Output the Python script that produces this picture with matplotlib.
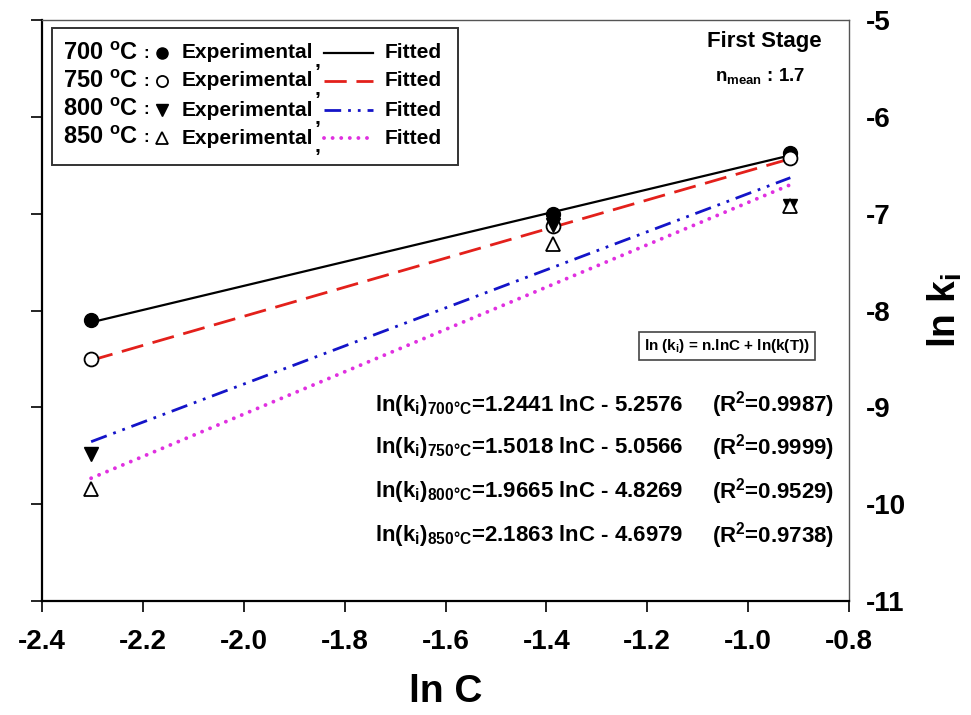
import numpy as np
import matplotlib
matplotlib.use("Agg")
import matplotlib.pyplot as plt
from matplotlib.lines import Line2D
from matplotlib.patches import Rectangle

plt.rcParams['font.family'] = ['Liberation Sans', 'DejaVu Sans']
plt.rcParams['font.weight'] = 'bold'
plt.rcParams['mathtext.default'] = 'regular'
plt.rcParams['axes.unicode_minus'] = False

# ln C values (C = 0.1, 0.25, 0.4)
ln_c = [-2.3026, -1.3863, -0.9163]
temps = ['700', '750', '800', '850']

# experimental ln k_i
lnk_700 = [-8.10, -7.00, -6.37]
lnk_750 = [-8.50, -7.13, -6.42]
lnk_800 = [-9.48, -7.12, -6.92]
lnk_850 = [-9.84, -7.31, -6.92]

# fitted slope / intercept / R^2
slopes = [1.2441, 1.5018, 1.9665, 2.1863]
intercepts = [-5.2576, -5.0566, -4.8269, -4.6979]
r2 = [0.9987, 0.9999, 0.9529, 0.9738]

exp_data = [lnk_700, lnk_750, lnk_800, lnk_850]
markers = [dict(marker='o', mfc='black', mec='black', ms=10),
           dict(marker='o', mfc='white', mec='black', ms=10, mew=1.3),
           dict(marker='v', mfc='black', mec='black', ms=10),
           dict(marker='^', mfc='white', mec='black', ms=10, mew=1.3)]
line_styles = [dict(color='black', ls='-', lw=1.6),
               dict(color='#e3201b', ls=(0, (8, 3.5)), lw=2.0),
               dict(color='#1414c8', ls=(0, (6, 2.5, 1, 2.5, 1, 2.5)), lw=2.0),
               dict(color='#e030e0', ls=(0, (0.01, 2.2)), lw=2.8, dash_capstyle='round')]

fig = plt.figure(figsize=(9.71, 7.15), dpi=100)
ax = fig.add_axes([42 / 971, 1 - 601 / 715, 807 / 971, 581 / 715])

x = np.array(ln_c)
for i in range(4):
    ax.plot(x, slopes[i] * x + intercepts[i], zorder=2, **line_styles[i])
for i in range(4):
    ax.plot(ln_c, exp_data[i], ls='none', zorder=3, **markers[i])

ax.set_xlim(-2.4, -0.8)
ax.set_ylim(-11, -5)
ax.set_xticks(np.arange(-2.4, -0.79, 0.2))
ax.set_xticklabels(['%.1f' % v for v in np.arange(-2.4, -0.79, 0.2)])
ax.set_yticks(range(-11, -4))

ax.tick_params(axis='x', direction='out', length=8, width=1.2, pad=12, labelsize=20)
ax.tick_params(axis='y', direction='out', length=8, width=1.2, left=True, right=False,
               labelleft=False, labelright=True, pad=4, labelsize=20)
for lab in ax.get_xticklabels() + ax.get_yticklabels():
    lab.set_fontweight('bold')

ax.spines['left'].set_linewidth(1.6)
ax.spines['bottom'].set_linewidth(1.6)
ax.spines['top'].set_color('#555555')
ax.spines['right'].set_color('#555555')
ax.spines['top'].set_linewidth(1.0)
ax.spines['right'].set_linewidth(1.0)

ax.set_xlabel('ln C', fontsize=28, fontweight='bold', labelpad=14)
ax.yaxis.set_label_position('right')
ax.set_ylabel(r'ln k$_\mathregular{i}$', fontsize=28, fontweight='bold', labelpad=14)


def fx(px):
    return (px - 42) / 807


def fy(py):
    return (601 - py) / 581


# legend box
ax.add_patch(Rectangle((fx(52), fy(165)), fx(458) - fx(52), fy(28) - fy(165),
                       transform=ax.transAxes, fill=False, ec='#333333', lw=1.4, zorder=5))
row_y = [53, 81, 110, 138]
for i in range(4):
    yy = fy(row_y[i])
    ax.text(fx(63), yy, temps[i] + r' $^{o}$C', transform=ax.transAxes, fontsize=17,
            fontweight='bold', ha='left', va='center', zorder=6)
    ax.text(fx(146), yy, ':', transform=ax.transAxes, fontsize=12,
            fontweight='bold', ha='center', va='center', zorder=6)
    ax.add_line(Line2D([fx(162)], [yy], transform=ax.transAxes, ls='none',
                       zorder=6, **dict(markers[i], ms=8)))
    ax.text(fx(182), yy, 'Experimental', transform=ax.transAxes, fontsize=15,
            fontweight='bold', ha='left', va='center', zorder=6)
    ax.text(fx(317), yy - 0.014, ',', transform=ax.transAxes, fontsize=15,
            fontweight='bold', ha='center', va='center', zorder=6)
    ax.add_line(Line2D([fx(324), fx(373)], [yy, yy], transform=ax.transAxes,
                       zorder=6, **line_styles[i]))
    ax.text(fx(385), yy, 'Fitted', transform=ax.transAxes, fontsize=15,
            fontweight='bold', ha='left', va='center', zorder=6)

ax.text(fx(764), fy(42), 'First Stage', transform=ax.transAxes, fontsize=16,
        fontweight='bold', ha='center', va='center')
ax.text(fx(760), fy(76), r'n$_\mathregular{mean}$ : 1.7', transform=ax.transAxes,
        fontsize=13.5, fontweight='bold', ha='center', va='center')

ax.text(fx(727), fy(346), r'ln (k$_\mathregular{i}$) = n.lnC + ln(k(T))',
        transform=ax.transAxes, fontsize=11, fontweight='bold', ha='center', va='center',
        bbox=dict(boxstyle='square,pad=0.35', fc='white', ec='#444444', lw=1.2))

eq_y = [405, 448, 492, 536]
for i in range(4):
    yy = fy(eq_y[i])
    ax.text(fx(375), yy,
            r'ln(k$_\mathregular{i}$)$_\mathregular{%s°C}$=%.4f lnC - %.4f'
            % (temps[i], slopes[i], -intercepts[i]),
            transform=ax.transAxes, fontsize=16, fontweight='bold', ha='left', va='center')
    ax.text(fx(834), yy, r'(R$^\mathregular{2}$=%.4f)' % r2[i],
            transform=ax.transAxes, fontsize=16, fontweight='bold', ha='right', va='center')

fig.savefig('out.png', dpi=100)
